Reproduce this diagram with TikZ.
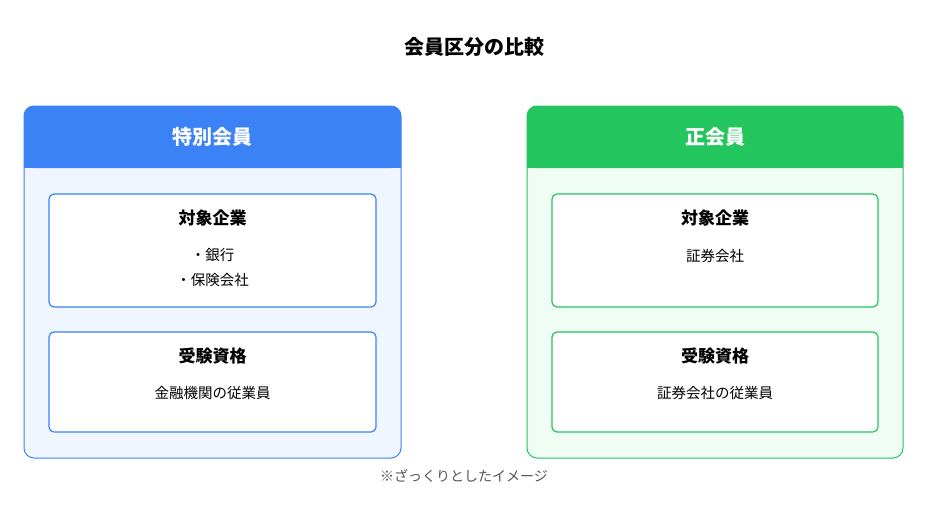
\documentclass[tikz,border=0pt]{standalone}
\usepackage{fontspec}
\setmainfont{Noto Sans CJK JP}
\newfontfamily\jpb{Noto Sans CJK JP Bold}
\definecolor{blu}{HTML}{3B82F6}
\definecolor{blubg}{HTML}{EFF6FF}
\definecolor{grn}{HTML}{22C55E}
\definecolor{grnbg}{HTML}{F0FDF4}
\definecolor{gry}{HTML}{555555}
\begin{document}
\begin{tikzpicture}[x=1pt,y=-1pt,
 inner/.style={draw=#1,fill=white,rounded corners=5,line width=1.2},
 ttl/.style={font=\fontsize{17}{20}\selectfont\bfseries},
 txt/.style={font=\fontsize{14.5}{25}\selectfont,align=center}]
\useasboundingbox (0,0) rectangle (948,511);
\node[font=\fontsize{20}{24}\selectfont\bfseries] (title) at (474,47) {会員区分の比較};
% left
\draw[blu,fill=blubg,rounded corners=10,line width=1] (24,106) rectangle (401,458);
\fill[blu,rounded corners=10] (24,106) rectangle (401,168);
\fill[blu] (24,150) rectangle (401,168);
\node[white,font=\fontsize{20}{24}\selectfont\bfseries] (lh) at (212.5,137) {特別会員};
\draw[inner=blu] (49,194) rectangle (376,307);
\node[ttl] (l1t) at (212.5,218) {対象企業};
\node[txt] (l1c) at (212.5,268) {・銀行\\・保険会社};
\draw[inner=blu] (49,332) rectangle (376,432);
\node[ttl] (l2t) at (212.5,356) {受験資格};
\node[txt] (l2c) at (212.5,393) {金融機関の従業員};
% right
\draw[grn,fill=grnbg,rounded corners=10,line width=1] (527,106) rectangle (903,458);
\fill[grn,rounded corners=10] (527,106) rectangle (903,168);
\fill[grn] (527,150) rectangle (903,168);
\node[white,font=\fontsize{20}{24}\selectfont\bfseries] (rh) at (715,137) {正会員};
\draw[inner=grn] (552,194) rectangle (878,307);
\node[ttl] (r1t) at (715,218) {対象企業};
\node[txt] (r1c) at (715,256) {証券会社};
\draw[inner=grn] (552,332) rectangle (878,432);
\node[ttl] (r2t) at (715,356) {受験資格};
\node[txt] (r2c) at (715,393) {証券会社の従業員};
\node[gry,font=\fontsize{14}{16}\selectfont] (note) at (464,476) {※ざっくりとしたイメージ};
\end{tikzpicture}
\end{document}
